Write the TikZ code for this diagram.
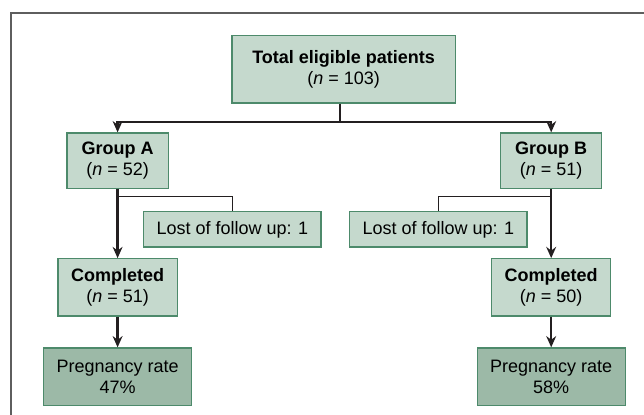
\documentclass[tikz,border=0pt]{standalone}
\usepackage{fontspec}
\setmainfont{Liberation Sans}
\usetikzlibrary{arrows.meta}
\definecolor{boxfill}{HTML}{C5D9CD}
\definecolor{boxdark}{HTML}{9CB9A7}
\definecolor{boxline}{HTML}{4D8A6B}
\definecolor{framegray}{HTML}{5E5E5E}
\definecolor{arrowblack}{HTML}{231F20}

\begin{document}
\begin{tikzpicture}[
	box/.style={draw=boxline, line width=0.9pt, fill=boxfill, align=center, inner sep=2pt, font=\fontsize{12.8}{15}\selectfont},
	result/.style={box, fill=boxdark},
	arr/.style={draw=arrowblack, line width=1.7pt, -{Stealth[length=8pt,width=7pt]}},
	link/.style={draw=arrowblack, line width=0.7pt}]
	\useasboundingbox (0,0) rectangle (16.1,10.375);
	\draw[framegray, line width=0.9pt] (0.275,0) -- (0.275,10.05) -- (16.1,10.05);
	\node[box, minimum width=5.58cm, minimum height=1.68cm] (total) at (8.59,8.64) {\textbf{Total eligible patients}\\(\textit{n} = 103)};
	\node[box, minimum width=2.53cm, minimum height=1.38cm] (groupA) at (2.94,6.36) {\textbf{Group A}\\(\textit{n} = 52)};
	\node[box, minimum width=2.53cm, minimum height=1.38cm] (groupB) at (13.78,6.36) {\textbf{Group B}\\(\textit{n} = 51)};
	\node[box, minimum width=4.43cm, minimum height=0.88cm] (lostA) at (5.81,4.64) {Lost of follow up: 1};
	\node[box, minimum width=4.43cm, minimum height=0.88cm] (lostB) at (10.96,4.64) {Lost of follow up: 1};
	\node[box, minimum width=2.98cm, minimum height=1.43cm] (complA) at (2.94,3.19) {\textbf{Completed}\\(\textit{n} = 51)};
	\node[box, minimum width=2.98cm, minimum height=1.43cm] (complB) at (13.78,3.19) {\textbf{Completed}\\(\textit{n} = 50)};
	\node[result, minimum width=3.7cm, minimum height=1.43cm] (pregA) at (2.94,0.96) {Pregnancy rate\\47\%};
	\node[result, minimum width=3.7cm, minimum height=1.43cm] (pregB) at (13.78,0.96) {Pregnancy rate\\58\%};
	% branches
	\coordinate (fork) at (8.5,7.325);
	\coordinate (splitA) at (2.94,5.45);
	\coordinate (splitB) at (13.78,5.45);
	\draw[arr] (total.south -| fork) -- (fork) -| (groupA.north);
	\draw[arr] (fork) -| (groupB.north);
	\draw[link] (splitA) -| (lostA.north);
	\draw[link] (splitB) -| (lostB.north);
	\draw[arr] (groupA) -- (complA);
	\draw[arr] (groupB) -- (complB);
	\draw[arr] (complA) -- (pregA);
	\draw[arr] (complB) -- (pregB);
\end{tikzpicture}
\end{document}
